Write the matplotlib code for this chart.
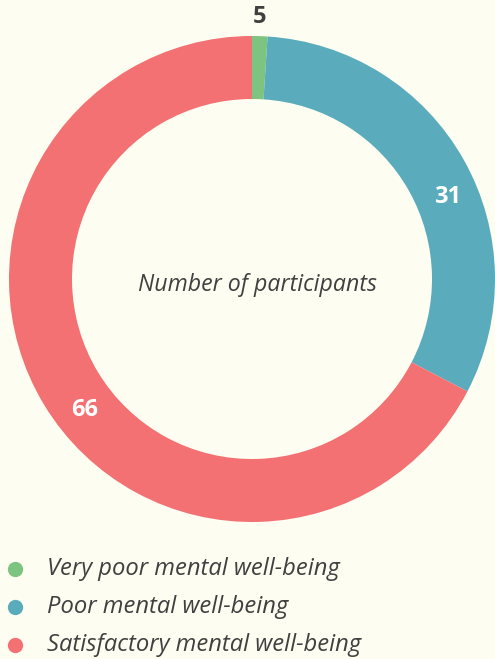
import matplotlib.pyplot as plt

# Data
categories = ['Very poor mental well-being', 'Poor mental well-being', 'Satisfactory mental well-being']
arc_values = [1, 31, 66]        # share of the ring as drawn in the picture
value_labels = ['5', '31', '66']
colors = ['#7cc47f', '#5aacbc', '#f37173']

bg = '#fdfdf2'
text_color = '#404040'
plt.rcParams['font.family'] = ['Open Sans', 'DejaVu Sans']

fig = plt.figure(figsize=(4.95, 6.59), dpi=100, facecolor=bg)
ax = fig.add_axes([0, 0, 1, 1])
ax.set_facecolor(bg)

cx, cy, r = 252, 659 - 279, 243
ax.pie(arc_values, colors=colors, startangle=90, counterclock=False,
       center=(cx, cy), radius=r, frame=True,
       wedgeprops=dict(width=63, linewidth=0))
ax.set_xlim(0, 495)
ax.set_ylim(0, 659)
ax.set_aspect('equal')
ax.axis('off')

# value labels
ax.text(260, 659 - 17, value_labels[0], ha='center', va='center',
        fontsize=17, fontweight='bold', color=text_color)
ax.text(448, 659 - 197, value_labels[1], ha='center', va='center',
        fontsize=17, fontweight='bold', color='white')
ax.text(85, 659 - 410, value_labels[2], ha='center', va='center',
        fontsize=17, fontweight='bold', color='white')

ax.text(257, 659 - 285, 'Number of participants', ha='center', va='center',
        fontsize=16.7, style='italic', color=text_color)

# legend
for i, (name, c) in enumerate(zip(categories, colors)):
    y = 659 - (569 + 38 * i)
    ax.plot(15, y, 'o', markersize=11, color=c, markeredgewidth=0)
    ax.text(47, y, name, ha='left', va='center', fontsize=17.1,
            style='italic', color=text_color)

fig.savefig('out.png', dpi=100, facecolor=bg)
